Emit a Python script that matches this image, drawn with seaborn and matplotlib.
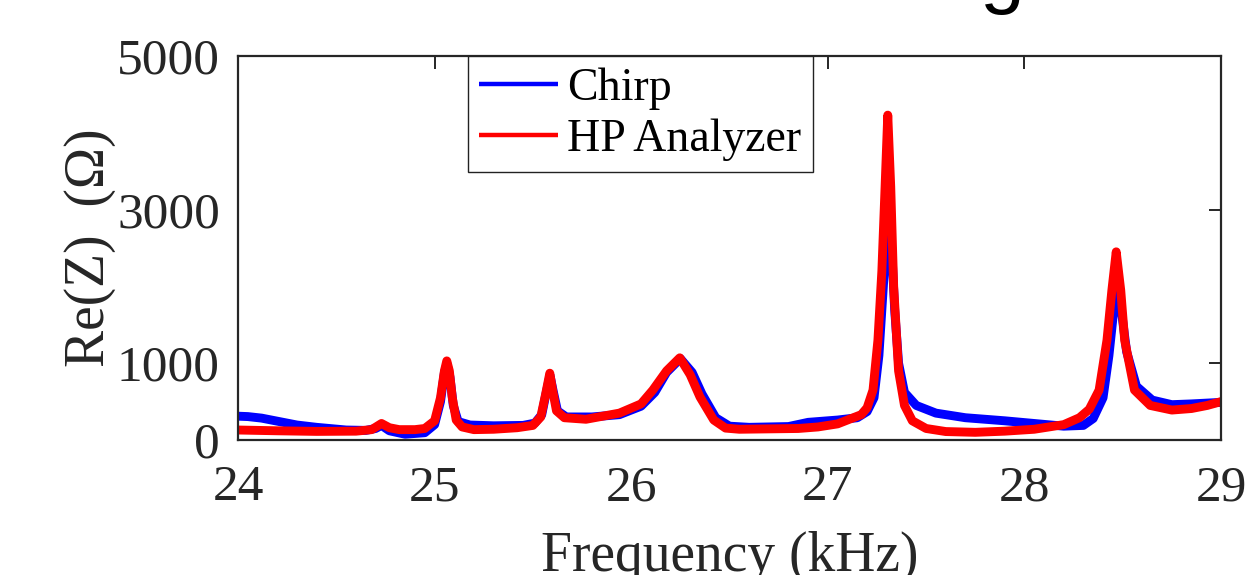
import numpy as np
import pandas as pd
import matplotlib
matplotlib.use("Agg")
import matplotlib.pyplot as plt
import seaborn as sns

# ---- data ----
chirp_freq = [24.00, 24.05, 24.12, 24.20, 24.30, 24.40, 24.55, 24.65, 24.70, 24.73,
              24.77, 24.85, 24.95, 25.00, 25.03, 25.05, 25.063, 25.078, 25.095, 25.12,
              25.18, 25.30, 25.45, 25.51, 25.545, 25.568, 25.587, 25.603, 25.625, 25.67,
              25.80, 25.94, 26.05, 26.12, 26.18, 26.25, 26.31, 26.36, 26.43, 26.50,
              26.60, 26.80, 26.90, 27.05, 27.15, 27.20, 27.235, 27.26, 27.28, 27.30,
              27.31, 27.325, 27.34, 27.36, 27.39, 27.45, 27.55, 27.70, 27.90, 28.05,
              28.20, 28.30, 28.35, 28.40, 28.43, 28.455, 28.472, 28.49, 28.52, 28.57,
              28.65, 28.75, 28.85, 29.00]
chirp_re = [310, 305, 285, 245, 195, 165, 130, 125, 150, 190,
            120, 75, 95, 200, 500, 880, 990, 820, 450, 240,
            195, 185, 190, 220, 330, 620, 840, 640, 380, 300,
            300, 330, 440, 620, 880, 1060, 880, 600, 290, 180,
            165, 175, 230, 260, 290, 370, 550, 1100, 1900, 2700,
            2950, 2500, 1700, 1000, 620, 450, 350, 290, 250, 215,
            180, 190, 280, 550, 1100, 1700, 2080, 1750, 1150, 700,
            520, 460, 470, 490]

hp_freq = [24.00, 24.20, 24.40, 24.60, 24.68, 24.73, 24.77, 24.82, 24.90, 24.95,
           25.00, 25.03, 25.05, 25.062, 25.075, 25.09, 25.11, 25.14, 25.20, 25.30,
           25.42, 25.50, 25.54, 25.565, 25.586, 25.60, 25.62, 25.66, 25.77, 25.94,
           26.05, 26.11, 26.18, 26.247, 26.30, 26.35, 26.42, 26.48, 26.55, 26.70,
           26.85, 26.95, 27.05, 27.10, 27.17, 27.20, 27.23, 27.255, 27.275, 27.29,
           27.305, 27.32, 27.335, 27.36, 27.39, 27.43, 27.50, 27.60, 27.75, 27.90,
           28.05, 28.20, 28.28, 28.33, 28.38, 28.42, 28.445, 28.467, 28.49, 28.51,
           28.56, 28.64, 28.75, 28.85, 28.93, 29.00]
hp_re = [130, 120, 112, 115, 135, 215, 160, 135, 135, 150,
         250, 550, 900, 1030, 900, 550, 260, 170, 135, 140,
         160, 190, 300, 600, 870, 650, 380, 290, 270, 350,
         470, 650, 900, 1070, 850, 560, 260, 155, 140, 145,
         150, 170, 210, 260, 330, 420, 650, 1300, 2200, 3200,
         4230, 3300, 2000, 900, 450, 250, 150, 110, 100, 115,
         140, 200, 290, 400, 650, 1300, 1950, 2450, 1950, 1300,
         650, 450, 390, 410, 450, 500]

series_names = ["Chirp", "HP Analyzer"]
x_ticks = [24, 25, 26, 27, 28, 29]
y_ticks = [0, 1000, 3000, 5000]

df = pd.concat([
    pd.DataFrame({"freq": chirp_freq, "re": chirp_re, "series": series_names[0]}),
    pd.DataFrame({"freq": hp_freq, "re": hp_re, "series": series_names[1]}),
], ignore_index=True)

sns.set_theme(style="white")
plt.rcParams["font.family"] = ["Liberation Serif", "DejaVu Serif"]

fig = plt.figure(figsize=(12.53, 5.75), dpi=100)
ax = fig.add_axes([238 / 1253, 1 - 440 / 575, (1221 - 238) / 1253, (440 - 56) / 575])

sns.lineplot(data=df, x="freq", y="re", hue="series",
             palette={"Chirp": "#0000ff", "HP Analyzer": "#ff0000"},
             estimator=None, sort=False, linewidth=6.4, ax=ax, legend=True)
for ln in ax.get_lines():
    ln.set_solid_capstyle("round")
    ln.set_solid_joinstyle("round")

ax.set_xlim(24, 29)
ax.set_ylim(0, 5000)
ax.set_xticks(x_ticks)
ax.set_yticks(y_ticks)
ax.set_xticklabels([str(t) for t in x_ticks])
ax.set_yticklabels([str(t) for t in y_ticks])

dark = "#262626"
for s in ax.spines.values():
    s.set_visible(True)
    s.set_color(dark)
    s.set_linewidth(1.6)
ax.tick_params(axis="both", direction="in", length=9, width=1.4, colors=dark,
               labelsize=37, top=True, right=True, labeltop=False, labelright=False)
ax.tick_params(axis="x", pad=18)
ax.tick_params(axis="y", pad=13)

ax.set_xlabel("Frequency (kHz)", fontsize=40, color=dark, labelpad=14)
ax.set_ylabel("Re(Z)  (Ω)", fontsize=40, color=dark, labelpad=1)

handles = ax.get_legend().legend_handles
leg = ax.legend(handles=handles, labels=series_names, loc="upper left",
                bbox_to_anchor=((468 - 238) / (1221 - 238), 1.0),
                fontsize=33, frameon=True, fancybox=False, framealpha=1,
                edgecolor="#222222", handlelength=1.72, handletextpad=0.2,
                borderpad=0.25, labelspacing=0.18, borderaxespad=0)
leg.get_frame().set_linewidth(1.0)
for h in leg.legend_handles:
    h.set_linewidth(3.2)
    h.set_solid_capstyle("butt")
for t in leg.get_texts():
    t.set_color("black")

# fragment of a title that lies above the visible area
fig.text(1002 / 1253, 1 + 2 / 575, "g", fontsize=58, family="Liberation Sans",
         ha="center", va="baseline", color="black")

fig.savefig("out.png", dpi=100)
